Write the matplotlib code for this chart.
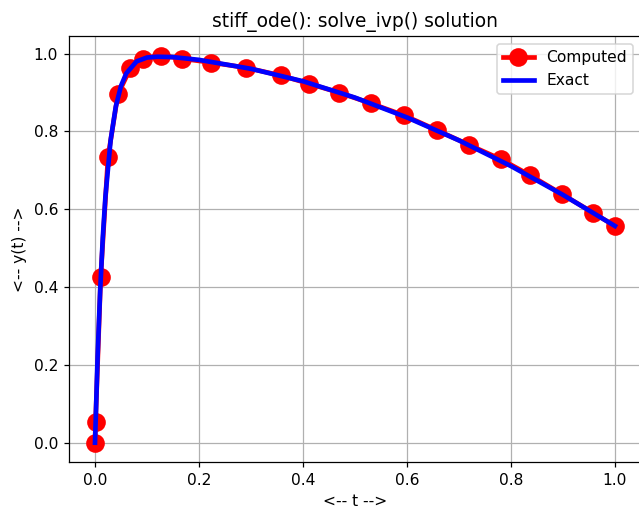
import matplotlib
matplotlib.use('Agg')
import matplotlib.pyplot as plt

# Computed (solve_ivp) points
t_computed = [0.0, 0.001, 0.011, 0.025, 0.044, 0.068, 0.093, 0.127, 0.168,
              0.224, 0.29, 0.357, 0.411, 0.469, 0.531, 0.595, 0.658, 0.72,
              0.78, 0.836, 0.898, 0.958, 1.0]
y_computed = [0.0, 0.052, 0.427, 0.734, 0.895, 0.962, 0.987, 0.995, 0.987,
              0.977, 0.964, 0.944, 0.923, 0.900, 0.872, 0.841, 0.803, 0.765,
              0.729, 0.688, 0.639, 0.591, 0.557]

# Exact solution curve
t_exact = [0.0, 0.005, 0.01, 0.015, 0.02, 0.03, 0.04, 0.05, 0.06, 0.08, 0.1,
           0.12, 0.15, 0.2, 0.3, 0.4, 0.5, 0.6, 0.7, 0.8, 0.9, 1.0]
y_exact = [0.0, 0.221, 0.394, 0.528, 0.632, 0.777, 0.864, 0.917, 0.949, 0.980,
           0.990, 0.992, 0.991, 0.984, 0.961, 0.929, 0.887, 0.836, 0.777,
           0.711, 0.637, 0.557]

# reference looks rendered at a slightly higher dpi than 100
dpi = 112
fig = plt.figure(figsize=(639 / dpi, 510 / dpi), dpi=dpi)
# the original figure is cropped just inside the right spine
ax = fig.add_axes([0.108, 0.094, 0.895, 0.835])

ax.plot(t_computed, y_computed, 'ro-', linewidth=3, markersize=11, label='Computed')
ax.plot(t_exact, y_exact, 'b-', linewidth=3, label='Exact')

ax.set_xlabel('<-- t -->')
ax.set_ylabel('<-- y(t) -->')
ax.set_title('stiff_ode(): solve_ivp() solution')
ax.grid(True)
ax.legend(loc='upper right')

fig.savefig('out.png', dpi=dpi)
